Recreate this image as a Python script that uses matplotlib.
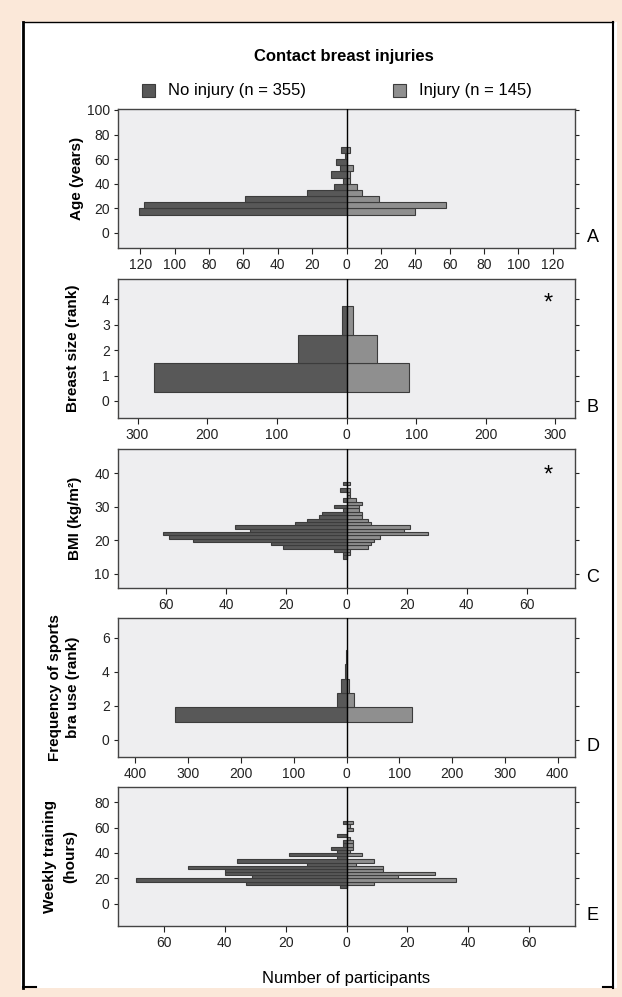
import matplotlib
matplotlib.use('Agg')
import matplotlib.pyplot as plt
from matplotlib.patches import Rectangle
from matplotlib.lines import Line2D
import numpy as np

plt.rcParams['font.family'] = ['Liberation Sans', 'DejaVu Sans']

''' Datos leidos de la figura (conteos por intervalo) '''
# A - Edad (intervalos de 5 años, limite inferior)
age_bins = [15, 20, 25, 30, 35, 40, 45, 50, 55, 60, 65]
age_width = 5
age_no_injury = [121, 118, 59, 23, 7, 2, 9, 4, 6, 1, 3]
age_injury = [40, 58, 19, 9, 6, 2, 2, 4, 0, 0, 2]

# B - Talla de pecho (rango)
size_bins = [0.37, 1.49, 2.61]
size_width = 1.12
size_no_injury = [277, 69, 6]
size_injury = [90, 44, 10]

# C - IMC (intervalos de 1 kg/m2, limite inferior)
bmi_bins = [14.5, 15.5, 16.5, 17.5, 18.5, 19.5, 20.5, 21.5, 22.5, 23.5, 24.5, 25.5,
            26.5, 27.5, 28.5, 29.5, 30.5, 31.5, 32.5, 33.5, 34.5, 35.5, 36.5]
bmi_width = 1
bmi_no_injury = [1, 1, 4, 21, 25, 51, 59, 61, 32, 37, 17, 13,
                 9, 8, 1, 4, 0, 1, 0, 0, 2, 0, 1]
bmi_injury = [0, 1, 1, 7, 8, 9, 11, 27, 19, 21, 8, 7,
              5, 5, 4, 4, 5, 3, 1, 1, 1, 0, 1]

# D - Frecuencia de uso de sujetador deportivo (rango)
bra_bins = [1.08, 1.92, 2.76, 3.60, 4.44]
bra_width = 0.84
bra_no_injury = [325, 18, 10, 2, 1]
bra_injury = [125, 14, 5, 1, 0]

# E - Entrenamiento semanal (intervalos de 2.5 h, limite inferior)
train_bins = [12.5, 15, 17.5, 20, 22.5, 25, 27.5, 30, 32.5, 35, 37.5, 40,
              42.5, 45, 47.5, 50, 52.5, 55, 57.5, 60, 62.5]
train_width = 2.5
train_no_injury = [2, 33, 69, 31, 40, 40, 52, 13, 36, 3, 19, 3,
                   5, 1, 1, 0, 3, 0, 0, 0, 1]
train_injury = [0, 9, 36, 17, 29, 12, 12, 3, 9, 0, 5, 1,
                2, 2, 2, 1, 0, 0, 2, 1, 2]

panel_letters = ['A', 'B', 'C', 'D', 'E']
y_labels = ['Age (years)', 'Breast size (rank)', 'BMI (kg/m\u00b2)',
            'Frequency of sports\nbra use (rank)', 'Weekly training\n(hours)']

dark = '#585858'
light = '#8f8f8f'
edge = '#3c3c3c'
peach = '#fbe8d9'

W, H = 622, 997
fig = plt.figure(figsize=(W / 100, H / 100), dpi=100)
fig.patch.set_facecolor(peach)

def fx(px):
    return px / W

def fy(py):
    return 1 - py / H

# Marco blanco con borde negro
fig.patches.append(Rectangle((fx(21), fy(988)), fx(617) - fx(21), fy(22) - fy(988),
                             transform=fig.transFigure, facecolor='white', edgecolor='none', zorder=-10))
fig.lines.append(Line2D([fx(23), fx(23)], [fy(988), fy(22)], transform=fig.transFigure, color='black', lw=2))
fig.lines.append(Line2D([fx(613), fx(613)], [fy(988), fy(22)], transform=fig.transFigure, color='black', lw=1.5))
fig.lines.append(Line2D([fx(23), fx(613)], [fy(22), fy(22)], transform=fig.transFigure, color='black', lw=1))
fig.lines.append(Line2D([fx(23), fx(36)], [fy(987), fy(987)], transform=fig.transFigure, color='black', lw=1.5))
fig.lines.append(Line2D([fx(603), fx(613)], [fy(987), fy(987)], transform=fig.transFigure, color='black', lw=1.5))

# Titulo y leyenda
fig.text(fx(344), fy(57), 'Contact breast injuries', ha='center', va='center',
         fontsize=12, fontweight='bold')
fig.patches.append(Rectangle((fx(142), fy(97)), fx(13), 13 / H, transform=fig.transFigure,
                             facecolor=dark, edgecolor=edge, lw=0.8))
fig.text(fx(168), fy(90), 'No injury (n = 355)', ha='left', va='center', fontsize=12)
fig.patches.append(Rectangle((fx(393), fy(97)), fx(13), 13 / H, transform=fig.transFigure,
                             facecolor=light, edgecolor=edge, lw=0.8))
fig.text(fx(419), fy(90), 'Injury (n = 145)', ha='left', va='center', fontsize=12)

panels = [
    (age_bins, age_width, age_no_injury, age_injury, 133, 20, 120, (-12.2, 100.8), [0, 20, 40, 60, 80, 100]),
    (size_bins, size_width, size_no_injury, size_injury, 328, 100, 300, (-0.67, 4.8), [0, 1, 2, 3, 4]),
    (bmi_bins, bmi_width, bmi_no_injury, bmi_injury, 76, 20, 60, (5.8, 47.2), [10, 20, 30, 40]),
    (bra_bins, bra_width, bra_no_injury, bra_injury, 433, 100, 400, (-1.0, 7.16), [0, 2, 4, 6]),
    (train_bins, train_width, train_no_injury, train_injury, 75, 20, 60, (-17.3, 91.8), [0, 20, 40, 60, 80]),
]

tops = [109, 279, 449, 618, 787]
label_x = [(77,), (73,), (75,), (55, 73), (50, 70)]

for i, (bins, width, no_inj, inj, xmax, xstep, xtick_max, ylim, yticks) in enumerate(panels):
    top = tops[i]
    ax = fig.add_axes([fx(118), fy(top + 139), fx(575) - fx(118), 139 / H])
    ax.set_facecolor('#eeeef0')

    centers = np.array(bins) + width / 2
    ax.barh(centers, -np.array(no_inj), height=width, color=dark, edgecolor=edge, lw=0.8, zorder=2)
    ax.barh(centers, np.array(inj), height=width, color=light, edgecolor=edge, lw=0.8, zorder=2)
    ax.axvline(0, color='black', lw=1, zorder=3)

    ax.set_xlim(-xmax, xmax)
    ax.set_ylim(*ylim)
    xt = np.arange(-xtick_max, xtick_max + 1, xstep)
    ax.set_xticks(xt)
    ax.set_xticklabels([str(abs(int(v))) for v in xt])
    ax.set_yticks(yticks)
    ax.tick_params(axis='x', length=4, width=0.8, pad=3, labelsize=10, colors='#222222')
    ax.tick_params(axis='y', length=3, width=0.8, pad=3, labelsize=10, colors='#222222',
                   right=True, labelright=False)
    for s in ax.spines.values():
        s.set_color('#444444')
        s.set_linewidth(1)

    # Etiqueta del eje y (negrita, rotada)
    yc = fy(top + 69.5)
    lines = y_labels[i].split('\n')
    for x_px, txt in zip(label_x[i], lines):
        fig.text(fx(x_px), yc, txt, rotation=90, ha='center', va='center',
                 fontsize=11, fontweight='bold')

    fig.text(fx(593), fy(top + 128), panel_letters[i], ha='center', va='center', fontsize=13)

# Asteriscos de significancia
fig.text(fx(548), fy(304), '*', ha='center', va='center', fontsize=17)
fig.text(fx(548), fy(476), '*', ha='center', va='center', fontsize=17)

fig.text(fx(346), fy(978), 'Number of participants', ha='center', va='center', fontsize=12)

fig.savefig('out.png', dpi=100, facecolor=fig.get_facecolor())
